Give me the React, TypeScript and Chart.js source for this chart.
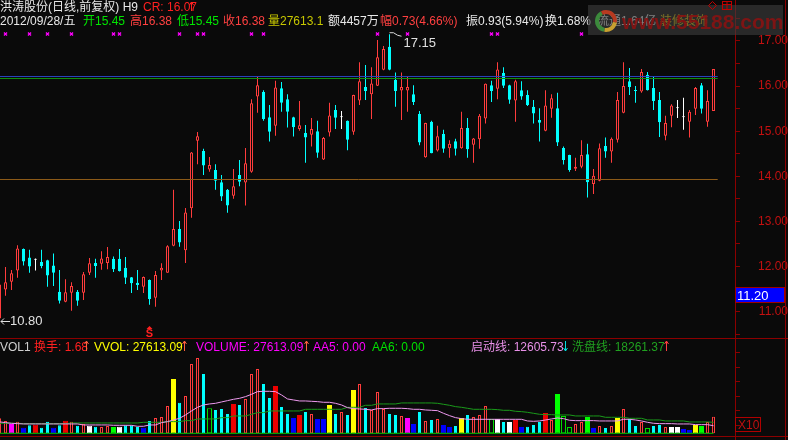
import { useEffect, useRef } from 'react';
import { Chart, registerables } from 'chart.js';

Chart.register(...registerables);

// ---------------- data (daily candles, oldest first) ----------------
const openPrices = [
  10.85, 11.49, 11.66, 11.91, 12.39, 12.20, 12.15, 12.10, 12.14, 12.02,
  11.44, 11.22, 11.42, 11.44, 11.42, 11.86, 12.08, 12.06, 12.08, 12.17,
  12.17, 11.97, 11.76, 11.64, 11.55, 11.70, 11.31, 11.91, 11.86, 12.46,
  12.83, 12.36, 13.29, 14.79, 14.56, 14.15, 14.14, 13.87, 13.70, 13.57,
  14.03, 13.86, 14.10, 15.77, 15.87, 15.31, 15.12, 15.95, 15.71, 15.31,
  15.05, 14.96, 14.92, 15.00, 14.37, 14.97, 15.47, 15.31, 15.23, 14.99,
  15.68, 15.98, 15.82, 16.01, 16.36, 16.87, 16.14, 15.90, 15.90, 15.82,
  15.38, 14.42, 15.21, 14.57, 14.94, 14.62, 14.78, 14.62, 15.07, 14.70,
  14.82, 15.28, 16.02, 15.94, 16.29, 16.02, 15.68, 15.91, 15.80, 15.54,
  15.25, 15.01, 15.50, 15.51, 14.63, 14.47, 14.17, 14.21, 14.49, 13.83,
  13.90, 14.67, 14.55, 14.81, 15.41, 16.11, 15.91, 15.88, 16.25, 15.96,
  15.69, 14.90, 15.34, 15.51, 15.31, 15.21, 15.50, 16.02, 15.21, 15.45,
];
const highPrices = [
  11.62, 11.99, 11.92, 12.47, 12.40, 12.37, 12.18, 12.37, 12.15, 12.29,
  11.92, 11.72, 11.65, 11.48, 11.88, 12.19, 12.17, 12.34, 12.43, 12.22,
  12.39, 12.21, 11.77, 11.92, 11.78, 11.71, 11.90, 12.07, 12.47, 13.70,
  13.01, 13.30, 14.54, 14.98, 14.61, 14.43, 14.27, 14.03, 13.72, 14.16,
  14.36, 14.63, 15.71, 16.21, 15.91, 15.58, 16.12, 16.09, 15.82, 15.32,
  15.67, 15.14, 15.29, 15.23, 14.87, 15.63, 15.58, 15.45, 15.24, 15.81,
  16.53, 16.47, 16.42, 17.02, 16.89, 17.15, 16.30, 16.30, 16.21, 16.02,
  15.45, 15.19, 15.23, 15.12, 15.03, 14.80, 14.83, 15.43, 15.29, 14.85,
  15.38, 16.06, 16.12, 16.53, 16.42, 16.03, 16.14, 16.11, 15.91, 15.69,
  15.51, 15.91, 15.82, 15.85, 14.66, 14.48, 14.41, 14.80, 14.72, 14.16,
  14.73, 14.86, 14.86, 15.87, 16.53, 16.40, 16.00, 16.38, 16.31, 16.20,
  15.87, 15.34, 15.60, 15.69, 15.74, 15.47, 15.98, 16.07, 15.91, 16.38,
];
const lowPrices = [
  10.80, 11.35, 11.48, 11.75, 12.02, 11.86, 11.91, 11.96, 11.55, 11.57,
  11.18, 11.21, 11.02, 11.13, 11.26, 11.81, 11.75, 11.93, 11.94, 11.88,
  11.89, 11.61, 11.41, 11.48, 11.41, 11.15, 11.11, 11.70, 11.86, 12.45,
  12.44, 12.08, 13.08, 14.27, 14.03, 14.10, 13.70, 13.45, 13.19, 13.50,
  13.78, 13.35, 14.08, 15.41, 15.23, 14.77, 14.90, 15.43, 15.08, 14.88,
  15.01, 14.30, 14.66, 14.41, 14.36, 14.88, 15.05, 15.05, 14.58, 14.92,
  15.58, 15.69, 15.27, 16.00, 16.35, 16.35, 15.54, 15.25, 15.43, 15.58,
  14.69, 14.41, 14.51, 14.55, 14.52, 14.41, 14.46, 14.61, 14.41, 14.30,
  14.61, 15.17, 15.65, 15.71, 15.96, 15.61, 15.21, 15.70, 15.56, 15.17,
  14.77, 15.00, 15.30, 14.67, 14.26, 14.10, 14.12, 14.18, 13.53, 13.61,
  13.89, 14.41, 14.30, 14.75, 15.40, 15.80, 15.63, 15.85, 15.90, 15.47,
  14.87, 14.80, 15.09, 15.29, 15.03, 14.86, 15.36, 15.39, 15.10, 15.45,
];
const closePrices = [
  11.60, 11.65, 11.85, 12.40, 12.11, 12.00, 12.15, 12.01, 11.80, 11.86,
  11.24, 11.43, 11.57, 11.24, 11.83, 12.07, 12.01, 12.18, 12.21, 11.94,
  11.90, 11.75, 11.63, 11.59, 11.77, 11.28, 11.81, 11.97, 12.45, 12.83,
  12.53, 13.20, 14.53, 14.89, 14.24, 14.25, 13.90, 13.55, 13.35, 13.78,
  13.88, 14.29, 15.62, 16.02, 15.27, 14.99, 15.97, 15.63, 15.43, 15.09,
  15.13, 14.86, 15.05, 14.52, 14.85, 15.35, 15.30, 15.31, 14.81, 15.80,
  16.11, 15.89, 16.06, 16.64, 16.82, 16.36, 15.89, 15.98, 15.98, 15.65,
  14.75, 15.18, 14.51, 14.89, 14.61, 14.72, 14.61, 15.07, 14.60, 14.84,
  15.34, 16.05, 15.89, 16.37, 16.01, 15.70, 16.11, 15.77, 15.58, 15.39,
  15.19, 15.57, 15.73, 14.75, 14.36, 14.14, 14.21, 14.47, 13.87, 14.01,
  14.62, 14.55, 14.83, 15.69, 16.00, 15.98, 15.89, 16.31, 15.91, 15.67,
  15.20, 15.18, 15.57, 15.51, 15.31, 15.43, 15.96, 15.50, 15.67, 16.38,
];
// volume in axis units (x10)
const volumes = [
  2500, 2056, 1556, 1944, 944, 1333, 1444, 944, 1944, 944,
  1333, 2111, 1944, 1278, 1556, 1278, 1111, 1056, 1222, 1056,
  1111, 1333, 1333, 1056, 944, 2056, 2556, 2722, 4556, 9056,
  5111, 6222, 11556, 12556, 9889, 4167, 3889, 4056, 3222, 4889,
  4722, 5722, 9889, 10722, 8222, 5889, 7889, 4389, 3222, 2556,
  3056, 3556, 3222, 2389, 2389, 4722, 3222, 3556, 3056, 7222,
  8222, 4222, 3889, 6889, 4056, 3222, 3056, 2889, 2556, 1556,
  3556, 2056, 2222, 2389, 1389, 1056, 1222, 2556, 3056, 2722,
  3056, 4556, 2389, 2389, 1889, 1889, 2222, 1056, 1111, 1389,
  1889, 3389, 2222, 6556, 2889, 1056, 1556, 1889, 2722, 889,
  1222, 889, 1222, 2556, 4056, 2389, 1222, 1889, 889, 1222,
  1389, 1056, 1056, 1056, 722, 556, 1389, 1222, 1889, 2761,
];
// volume bar class from the indicator (R up, C down, Y/B/W/M/F/G/g special)
const volumeKinds = [
  'R', 'R', 'M', 'R', 'B', 'C', 'F', 'C', 'C', 'B',
  'C', 'F', 'R', 'C', 'R', 'W', 'C', 'R', 'R', 'G',
  'W', 'C', 'C', 'C', 'B', 'C', 'R', 'R', 'R', 'Y',
  'C', 'R', 'R', 'R', 'C', 'g', 'C', 'C', 'C', 'F',
  'C', 'R', 'R', 'R', 'C', 'C', 'F', 'C', 'C', 'B',
  'F', 'C', 'R', 'B', 'B', 'Y', 'C', 'R', 'C', 'Y',
  'R', 'C', 'R', 'R', 'R', 'C', 'C', 'R', 'M', 'B',
  'C', 'R', 'C', 'R', 'B', 'B', 'C', 'Y', 'C', 'R',
  'R', 'R', 'g', 'W', 'C', 'W', 'F', 'B', 'C', 'C',
  'C', 'F', 'R', 'G', 'g', 'g', 'R', 'R', 'G', 'B',
  'R', 'C', 'R', 'Y', 'R', 'C', 'C', 'R', 'g', 'C',
  'C', 'R', 'W', 'W', 'B', 'B', 'Y', 'G', 'R', 'R',
];
// 启动线
const startLine = [
  1900, 1780, 1670, 1610, 1556, 1556, 1556, 1556, 1556, 1556,
  1556, 1556, 1556, 1556, 1389, 1389, 1389, 1389, 1389, 1333,
  1333, 1333, 1333, 1167, 1167, 1389, 1389, 1778, 1944, 2222,
  2500, 3056, 3722, 4333, 4722, 4889, 5000, 5222, 5444, 5667,
  5833, 6111, 6500, 6944, 7000, 7000, 6944, 6389, 5722, 5556,
  5389, 5389, 5333, 5278, 5167, 5167, 5000, 4722, 4278, 4111,
  4056, 4000, 3889, 4111, 4111, 4167, 4167, 4167, 4111, 4000,
  4000, 3889, 3833, 3778, 3333, 2944, 2611, 2444, 2333, 2333,
  2333, 2333, 2333, 2333, 2333, 2333, 2333, 2333, 2056, 2000,
  2056, 2222, 2389, 2556, 2444, 2167, 2111, 2111, 2111, 2111,
  2056, 2056, 2056, 2056, 2333, 2333, 2222, 2056, 1833, 1667,
  1611, 1611, 1611, 1556, 1556, 1556, 1444, 1444, 1444, 1261,
];
// 洗盘线
const washLine = [
  1667, 1667, 1667, 1667, 1611, 1611, 1611, 1611, 1611, 1611,
  1611, 1611, 1722, 1722, 1722, 1722, 1722, 1722, 1722, 1722,
  1722, 1722, 1722, 1722, 1833, 1833, 1833, 1833, 1944, 1944,
  1944, 2111, 2111, 2389, 2389, 2389, 2389, 2611, 2611, 2889,
  2889, 2889, 3167, 3444, 3444, 3722, 3722, 3722, 3722, 3722,
  3722, 4000, 4000, 4000, 4000, 4000, 4000, 4000, 4333, 4333,
  4333, 4667, 4667, 4889, 4889, 4889, 4889, 5056, 5056, 5056,
  5056, 5056, 5056, 5000, 4833, 4667, 4444, 4333, 4167, 4000,
  4000, 4000, 4000, 3944, 3833, 3833, 3667, 3611, 3500, 3333,
  3167, 3111, 3111, 3056, 3056, 3056, 2889, 2889, 2889, 2889,
  2889, 2667, 2667, 2667, 2667, 2500, 2500, 2500, 2222, 2222,
  2222, 2056, 2056, 2056, 2056, 1889, 1889, 1889, 1889, 1826,
];
const signalMarks = [1, 5, 8, 12, 19, 20, 30, 33, 34, 42, 44, 63, 68, 82, 83, 97];
const signalLevel = 17.155;
const blueLevel = 16.213;
const greenLevel = 16.168;
const supportLevel = 13.929;
const lineEnd = 119.7;
const priceTicks = { min: 10.415, max: 17.909, step: 0.5 };
const volTicks = { min: -1117, max: 15883, step: 2500, labels: [5000, 10000] };
const highMark = { index: 65, value: 17.15 };
const lowMark = { value: 10.8 };
const sMark = { index: 25 };
const cursorPrice = 11.2;

// ---------------- styling ----------------
const BG = '#0a0a0a';
const UP = '#ff3c3c';
const DOWN = '#00ffff';
const FLAT = '#ffffff';
const AXIS = '#8c0000';
const TICK = '#c41010';
const FONT = '"Liberation Sans","Noto Sans CJK SC",sans-serif';
const X_MIN = 1 / 12;
const X_MAX = 1 / 12 + 735 / 6;

const kindStyle: Record<string, { fill: string; line: string; wide: boolean }> = {
  R: { fill: BG, line: UP, wide: false },
  C: { fill: DOWN, line: DOWN, wide: false },
  g: { fill: BG, line: '#00dd00', wide: true },
  Y: { fill: '#ffff00', line: '#ffff00', wide: true },
  B: { fill: '#0000ff', line: '#0000ff', wide: true },
  W: { fill: '#ffffff', line: '#ffffff', wide: true },
  M: { fill: '#ff00ff', line: '#ff00ff', wide: true },
  F: { fill: '#ee0000', line: '#ee0000', wide: true },
  G: { fill: '#00ff00', line: '#00ff00', wide: true },
};

const headerRow1 = [
  { text: '洪涛股份(日线,前复权) H9', x: 0, color: '#e8e8e8' },
  { text: 'CR: 16.07', x: 143, color: '#ff2020' },
];
const headerRow2 = [
  { text: '2012/09/28/五', x: 0, color: '#e8e8e8' },
  { text: '开15.45', x: 83, color: '#00e600' },
  { text: '高16.38', x: 130, color: '#ff4040' },
  { text: '低15.45', x: 177, color: '#00e600' },
  { text: '收16.38', x: 223, color: '#ff4040' },
  { text: '量27613.1', x: 268, color: '#c8c800' },
  { text: '额4457万', x: 328, color: '#e8e8e8' },
  { text: '幅0.73(4.66%)', x: 380, color: '#ff4040' },
  { text: '振0.93(5.94%)', x: 466, color: '#e8e8e8' },
  { text: '换1.68%', x: 545, color: '#e8e8e8' },
  { text: '流通1.64亿', x: 597, color: '#e8e8e8' },
  { text: '装修装饰', x: 660, color: '#e0c000' },
];
const volHeader = [
  { text: 'VOL1', x: 0, color: '#d0d0d0' },
  { text: '换手: 1.68', x: 34, color: '#ff2020' },
  { text: 'VVOL: 27613.09', x: 94, color: '#ffff00' },
  { text: 'VOLUME: 27613.09', x: 196, color: '#ff00ff' },
  { text: 'AA5: 0.00', x: 313, color: '#ff00ff' },
  { text: 'AA6: 0.00', x: 372, color: '#00e000' },
  { text: '启动线: 12605.73', x: 471, color: '#e890e8' },
  { text: '洗盘线: 18261.37', x: 572, color: '#20a020' },
];
const volArrows = [
  { x: 86, color: '#ff6040', up: true },
  { x: 184, color: '#ff6040', up: true },
  { x: 306, color: '#ff6040', up: true },
  { x: 565, color: '#00e0e0', up: false },
  { x: 666, color: '#ff4040', up: true },
];

const idx = openPrices.map((_, i) => i);
const candleColor = (k: number) =>
  closePrices[k] > openPrices[k] ? UP : closePrices[k] < openPrices[k] ? DOWN : FLAT;

function drawArrow(ctx: CanvasRenderingContext2D, x: number, top: number, bot: number, color: string, up: boolean) {
  ctx.strokeStyle = color;
  ctx.lineWidth = 1;
  ctx.beginPath();
  ctx.moveTo(x + 0.5, top);
  ctx.lineTo(x + 0.5, bot);
  ctx.stroke();
  ctx.beginPath();
  if (up) {
    ctx.moveTo(x - 1.5, top + 3);
    ctx.lineTo(x + 0.5, top);
    ctx.lineTo(x + 2.5, top + 3);
  } else {
    ctx.moveTo(x - 1.5, bot - 3);
    ctx.lineTo(x + 0.5, bot);
    ctx.lineTo(x + 2.5, bot - 3);
  }
  ctx.stroke();
}

const bgPlugin = {
  id: 'bgFill',
  beforeDraw(chart: any) {
    const { ctx, width, height } = chart;
    ctx.save();
    ctx.fillStyle = BG;
    ctx.fillRect(0, 0, width, height);
    ctx.restore();
  },
};

const priceOverlay = {
  id: 'priceOverlay',
  afterDraw(chart: any) {
    const ctx: CanvasRenderingContext2D = chart.ctx;
    const xs = chart.scales.x;
    const ys = chart.scales.y;
    ctx.save();
    ctx.textBaseline = 'alphabetic';
    ctx.textAlign = 'left';
    ctx.font = `12px ${FONT}`;
    headerRow1.forEach((s) => { ctx.fillStyle = s.color; ctx.fillText(s.text, s.x, 11); });
    drawArrow(ctx, 191, 2, 11, '#ff2020', true);
    headerRow2.forEach((s) => { ctx.fillStyle = s.color; ctx.fillText(s.text, s.x, 25); });

    // watermark
    ctx.fillStyle = 'rgba(62,62,62,0.62)';
    ctx.fillRect(588, 5, 195, 30);
    ctx.lineWidth = 4;
    ctx.strokeStyle = '#3c8a3c';
    ctx.beginPath(); ctx.arc(606, 21, 9, 0.55 * Math.PI, 1.35 * Math.PI); ctx.stroke();
    ctx.strokeStyle = '#b83a20';
    ctx.beginPath(); ctx.arc(606, 21, 9, 1.35 * Math.PI, 2.05 * Math.PI); ctx.stroke();
    ctx.strokeStyle = '#c8a030';
    ctx.beginPath(); ctx.arc(606, 21, 9, 0.05 * Math.PI, 0.55 * Math.PI); ctx.stroke();
    ctx.font = `bold 21px ${FONT}`;
    ctx.fillStyle = 'rgba(135,18,18,0.9)';
    ctx.fillText('www.55188.com', 622, 29);

    // top-right icons
    ctx.strokeStyle = '#c00000';
    ctx.lineWidth = 1;
    ctx.beginPath();
    ctx.moveTo(712.5, 1.5); ctx.lineTo(716.5, 5.5); ctx.lineTo(712.5, 9.5); ctx.lineTo(708.5, 5.5); ctx.closePath();
    ctx.stroke();
    ctx.strokeRect(722.5, 1.5, 9, 8);
    ctx.beginPath(); ctx.moveTo(727, 1.5); ctx.lineTo(727, 9.5); ctx.moveTo(722.5, 4.5); ctx.lineTo(731.5, 4.5); ctx.stroke();

    // high label
    const hx = xs.getPixelForValue(highMark.index);
    const hy = ys.getPixelForValue(highMark.value);
    ctx.strokeStyle = '#d8d8d8';
    ctx.beginPath();
    ctx.moveTo(hx, hy - 1.5); ctx.lineTo(hx + 4, hy - 1.5); ctx.lineTo(hx + 8, hy + 1); ctx.lineTo(hx + 12, hy + 2);
    ctx.stroke();
    ctx.font = `13px ${FONT}`;
    ctx.fillStyle = '#e0e0e0';
    ctx.fillText(highMark.value.toFixed(2), hx + 14, hy + 13);

    // low label
    const ly = Math.round(ys.getPixelForValue(lowMark.value)) + 0.5;
    ctx.strokeStyle = '#e0e0e0';
    ctx.beginPath();
    ctx.moveTo(1, ly); ctx.lineTo(10, ly);
    ctx.moveTo(4, ly - 3); ctx.lineTo(1, ly); ctx.lineTo(4, ly + 3);
    ctx.stroke();
    ctx.textBaseline = 'middle';
    ctx.fillText(lowMark.value.toFixed(2), 10, ly);

    // S marker
    const sx = xs.getPixelForValue(sMark.index);
    ctx.fillStyle = '#ff2020';
    ctx.beginPath(); ctx.moveTo(sx - 3, 329); ctx.lineTo(sx, 326); ctx.lineTo(sx + 3, 329); ctx.closePath(); ctx.fill();
    ctx.font = `bold 11px ${FONT}`;
    ctx.textAlign = 'center';
    ctx.textBaseline = 'alphabetic';
    ctx.fillText('S', sx, 337);

    // cursor price box
    const cy = Math.round(ys.getPixelForValue(cursorPrice));
    ctx.fillStyle = '#0000ff';
    ctx.fillRect(735, cy - 16, 50, 16);
    ctx.strokeStyle = '#a00000';
    ctx.strokeRect(735.5, cy - 15.5, 49, 15);
    ctx.fillStyle = '#ffffff';
    ctx.textAlign = 'left';
    ctx.font = `13px ${FONT}`;
    ctx.fillText(cursorPrice.toFixed(2), 737, cy - 3);

    // right border
    ctx.strokeStyle = AXIS;
    ctx.beginPath(); ctx.moveTo(785.5, 0); ctx.lineTo(785.5, chart.height); ctx.stroke();
    ctx.restore();
  },
};

const volOverlay = {
  id: 'volOverlay',
  afterDraw(chart: any) {
    const ctx: CanvasRenderingContext2D = chart.ctx;
    ctx.save();
    ctx.strokeStyle = AXIS;
    ctx.lineWidth = 1;
    ctx.beginPath();
    ctx.moveTo(0, 0.5); ctx.lineTo(chart.width, 0.5);
    ctx.moveTo(0, 98.5); ctx.lineTo(chart.width, 98.5);
    ctx.moveTo(785.5, 0); ctx.lineTo(785.5, chart.height);
    ctx.stroke();
    ctx.font = `12px ${FONT}`;
    ctx.textBaseline = 'alphabetic';
    volHeader.forEach((s) => { ctx.fillStyle = s.color; ctx.fillText(s.text, s.x, 13); });
    volArrows.forEach((a) => drawArrow(ctx, a.x, 3, 13, a.color, a.up));
    ctx.strokeStyle = '#b00000';
    ctx.strokeRect(735.5, 79.5, 25, 14);
    ctx.fillStyle = '#c01010';
    ctx.font = `12px ${FONT}`;
    ctx.fillText('X10', 738, 91);
    ctx.restore();
  },
};

function axisOptions(min: number, max: number, step: number, padding: number, cb: (v: number) => string) {
  return {
    type: 'linear',
    position: 'right',
    min,
    max,
    afterFit: (s: any) => { s.width = 53; s.paddingTop = 0; s.paddingBottom = 0; },
    grid: { display: true, drawOnChartArea: false, drawTicks: true, tickLength: 5, color: AXIS, tickColor: AXIS, tickWidth: 1 },
    border: { display: true, color: AXIS, width: 1 },
    ticks: {
      stepSize: step,
      maxTicksLimit: 100,
      autoSkip: false,
      includeBounds: false,
      padding,
      crossAlign: 'far',
      color: TICK,
      font: { family: 'Liberation Sans', size: 12 },
      callback: (v: any) => cb(Number(v)),
    },
  };
}

const baseOptions = {
  responsive: false,
  animation: false,
  events: [],
  layout: { padding: 0, autoPadding: false },
  plugins: { legend: { display: false }, tooltip: { enabled: false } },
};

export default function App() {
  const priceRef = useRef<HTMLCanvasElement>(null);
  const volRef = useRef<HTMLCanvasElement>(null);

  useEffect(() => {
    document.body.style.margin = '0';
    document.body.style.background = BG;
    const colors = idx.map(candleColor);

    const priceChart = new Chart(priceRef.current as HTMLCanvasElement, {
      type: 'bar',
      data: {
        datasets: [
          {
            type: 'line',
            order: 0,
            data: signalMarks.map((k) => ({ x: k, y: signalLevel })),
            showLine: false,
            pointStyle: 'crossRot',
            pointRadius: 2.2,
            pointBorderWidth: 1.3,
            pointBorderColor: '#ff00ff',
            pointBackgroundColor: '#ff00ff',
          } as any,
          {
            type: 'line', order: 0,
            data: [{ x: 0, y: blueLevel }, { x: lineEnd, y: blueLevel }],
            borderColor: '#2a46c0', borderWidth: 1, pointRadius: 0,
          } as any,
          {
            type: 'line', order: 0,
            data: [{ x: 0, y: greenLevel }, { x: lineEnd, y: greenLevel }],
            borderColor: '#109010', borderWidth: 1, pointRadius: 0,
          } as any,
          {
            type: 'line', order: 0,
            data: [{ x: 0, y: supportLevel }, { x: lineEnd, y: supportLevel }],
            borderColor: '#8c5a18', borderWidth: 1, pointRadius: 0,
          } as any,
          {
            type: 'bar',
            order: 1,
            data: idx.map((k) => ({ x: k, y: [openPrices[k], closePrices[k]] })),
            backgroundColor: idx.map((k) => (closePrices[k] > openPrices[k] ? BG : colors[k])),
            borderColor: colors,
            borderWidth: 1,
            borderSkipped: false,
            barThickness: 3,
            grouped: false,
            minBarLength: 1,
            inflateAmount: 0,
          } as any,
          {
            type: 'bar',
            order: 2,
            data: idx.map((k) => ({ x: k, y: [lowPrices[k], highPrices[k]] })),
            backgroundColor: colors,
            borderWidth: 0,
            barThickness: 1,
            grouped: false,
            inflateAmount: 0,
          } as any,
        ],
      },
      options: {
        ...baseOptions,
        scales: {
          x: { type: 'linear', min: X_MIN, max: X_MAX, display: false, offset: false },
          y: axisOptions(priceTicks.min, priceTicks.max, priceTicks.step, 12, (v) =>
            Math.abs(v - Math.round(v)) < 1e-6 ? v.toFixed(2) : ''),
        } as any,
      },
      plugins: [bgPlugin, priceOverlay],
    } as any);

    const narrow = idx.filter((k) => !kindStyle[volumeKinds[k]].wide);
    const wide = idx.filter((k) => kindStyle[volumeKinds[k]].wide);
    const volChart = new Chart(volRef.current as HTMLCanvasElement, {
      type: 'bar',
      data: {
        datasets: [
          {
            type: 'line', order: 0,
            data: [{ x: 0, y: 0 }, { x: idx.length - 1, y: 0 }],
            borderColor: '#00c800', borderWidth: 1, pointRadius: 0,
          } as any,
          {
            type: 'line', order: 0,
            data: idx.map((k) => ({ x: k, y: startLine[k] })),
            borderColor: '#ee99ee', borderWidth: 1, pointRadius: 0,
          } as any,
          {
            type: 'line', order: 0,
            data: idx.map((k) => ({ x: k, y: washLine[k] })),
            borderColor: '#1a9a1a', borderWidth: 1, pointRadius: 0,
          } as any,
          {
            type: 'bar', order: 1,
            data: narrow.map((k) => ({ x: k, y: volumes[k] })),
            backgroundColor: narrow.map((k) => kindStyle[volumeKinds[k]].fill),
            borderColor: narrow.map((k) => kindStyle[volumeKinds[k]].line),
            borderWidth: 1, borderSkipped: false, barThickness: 3, grouped: false, inflateAmount: 0,
          } as any,
          {
            type: 'bar', order: 1,
            data: wide.map((k) => ({ x: k, y: volumes[k] })),
            backgroundColor: wide.map((k) => kindStyle[volumeKinds[k]].fill),
            borderColor: wide.map((k) => kindStyle[volumeKinds[k]].line),
            borderWidth: 1, borderSkipped: false, barThickness: 5, grouped: false, inflateAmount: 0,
          } as any,
        ],
      },
      options: {
        ...baseOptions,
        scales: {
          x: { type: 'linear', min: X_MIN, max: X_MAX, display: false, offset: false },
          y: axisOptions(volTicks.min, volTicks.max, volTicks.step, 9, (v) =>
            volTicks.labels.includes(Math.round(v)) ? String(Math.round(v)) : ''),
        } as any,
      },
      plugins: [bgPlugin, volOverlay],
    } as any);

    return () => {
      priceChart.destroy();
      volChart.destroy();
    };
  }, []);

  return (
    <div style={{ position: 'relative', width: 788, height: 440, background: BG, overflow: 'hidden' }}>
      <canvas ref={priceRef} width={788} height={338} style={{ position: 'absolute', left: 0, top: 0 }} />
      <canvas ref={volRef} width={788} height={102} style={{ position: 'absolute', left: 0, top: 338 }} />
    </div>
  );
}
